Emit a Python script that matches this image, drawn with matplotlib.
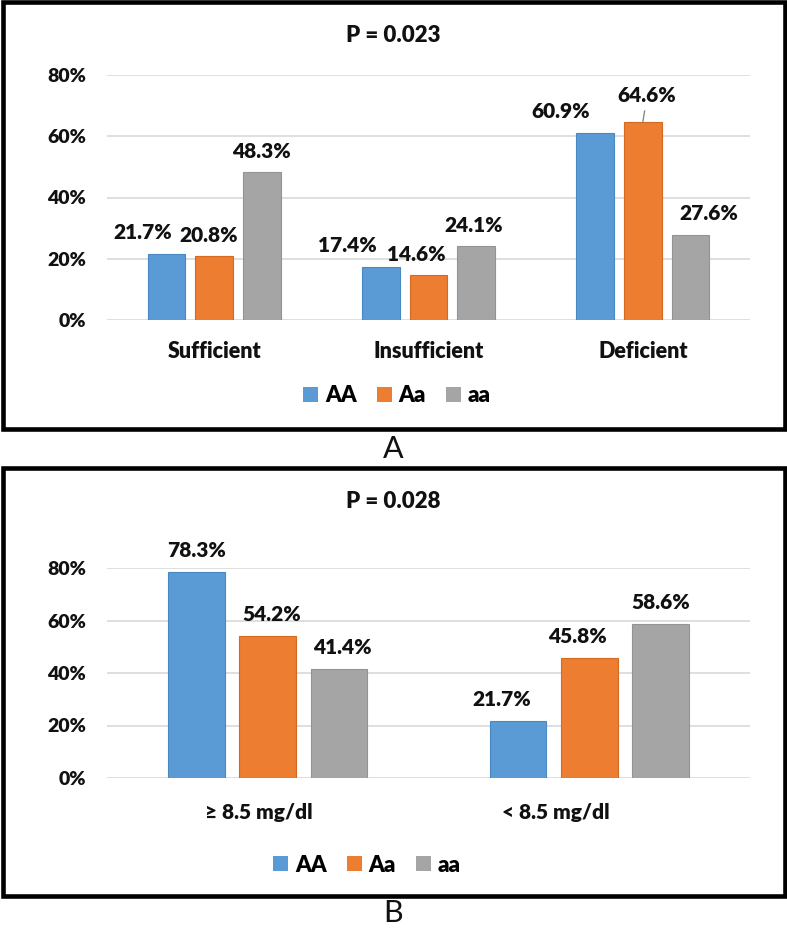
import matplotlib
matplotlib.use("Agg")
import matplotlib.pyplot as plt
from matplotlib.patches import Rectangle, Patch
import numpy as np

plt.rcParams['font.family'] = ['Lato', 'DejaVu Sans']

series = ['AA', 'Aa', 'aa']
colors = ['#5B9BD5', '#ED7D31', '#A5A5A5']
edges = ['#4A88C2', '#D46A22', '#939393']

cats_a = ['Sufficient', 'Insufficient', 'Deficient']
vals_a = {'AA': [21.7, 17.4, 60.9], 'Aa': [20.8, 14.6, 64.6], 'aa': [48.3, 24.1, 27.6]}
title_a = 'P = 0.023'

cats_b = ['\u2265 8.5 mg/dl', '< 8.5 mg/dl']
vals_b = {'AA': [78.3, 21.7], 'Aa': [54.2, 45.8], 'aa': [41.4, 58.6]}
title_b = 'P = 0.028'

yticks = [0, 20, 40, 60, 80]

W, H = 787, 932
fig = plt.figure(figsize=(W / 100, H / 100), dpi=100)
TXT = '#111111'
WT = 'heavy'

def fy(py):
    return 1 - py / H

def fx(px):
    return px / W

def panel(ax, cats, vals, label_offsets, cat_offsets, leaders=(), cat_weight=WT, cat_size=15.5):
    n = len(cats)
    x = np.arange(n)
    step = 0.222
    width = 0.176
    for i, s in enumerate(series):
        pos = x + (i - 1) * step
        ax.bar(pos, vals[s], width=width, color=colors[i], edgecolor=edges[i], linewidth=0.8, zorder=3)
        for j, v in enumerate(vals[s]):
            dx, dy = label_offsets[(i, j)]
            kw = dict(xy=(pos[j], v), xytext=(dx, dy), textcoords='offset points',
                      ha='center', va='center', fontsize=15, fontweight=WT, color=TXT,
                      annotation_clip=False)
            if (i, j) in leaders:
                kw['arrowprops'] = dict(arrowstyle='-', color='#7f7f7f', lw=0.9, shrinkA=2, shrinkB=0)
            ax.annotate(f'{v:.1f}%', **kw)
    ax.set_xlim(-0.5, n - 0.5)
    ax.set_ylim(0, 80)
    ax.set_yticks(yticks)
    ax.set_yticklabels([f'{t}%' for t in yticks], fontsize=14, fontweight=WT, color=TXT)
    ax.tick_params(axis='y', length=0, pad=15)
    ax.set_xticks([])
    for sp in ax.spines.values():
        sp.set_visible(False)
    ax.grid(axis='y', color='#D9D9D9', linewidth=1.2, zorder=0)
    ax.set_axisbelow(True)
    for j, c in enumerate(cats):
        dx, dy = cat_offsets[j]
        ax.annotate(c, xy=(j, 0), xytext=(dx, dy), textcoords='offset points', ha='center', va='center',
                    fontsize=cat_size, fontweight=cat_weight, color=TXT, annotation_clip=False)

# Panel A
axA = fig.add_axes([fx(107), fy(320), fx(750) - fx(107), fy(75) - fy(320)])
offs_a = {
    (0, 0): (-17, 15), (1, 0): (-4.3, 15), (2, 0): (0, 15),
    (0, 1): (-24, 15), (1, 1): (-8.6, 15), (2, 1): (-1.4, 15),
    (0, 2): (-25, 16), (1, 2): (3, 19), (2, 2): (13, 16),
}
panel(axA, cats_a, vals_a, offs_a, [(0, -23), (0, -23), (0, -23)], leaders=[(1, 2)])
fig.text(fx(393), fy(36), title_a, ha='center', va='center', fontsize=16, fontweight=WT, color=TXT)
handles = [Patch(facecolor=c, edgecolor='none') for c in colors]
legkw = dict(loc='center', ncol=3, frameon=False, prop={'size': 16, 'weight': WT},
             handlelength=0.68, handleheight=0.68, handletextpad=0.3, columnspacing=0.9)
fig.legend(handles, series, bbox_to_anchor=(fx(397), fy(396)), **legkw)
fig.text(fx(393), fy(449), 'A', ha='center', va='center', fontsize=22, fontweight='normal', color=TXT)

# Panel B
axB = fig.add_axes([fx(107), fy(778), fx(750) - fx(107), fy(568) - fy(778)])
offs_b = {
    (0, 0): (0, 15.5), (1, 0): (3, 15.5), (2, 0): (2, 15.5),
    (0, 1): (-11.5, 15.5), (1, 1): (-8.6, 15.5), (2, 1): (0, 15.5),
}
panel(axB, cats_b, vals_b, offs_b, [(-6.5, -24.5), (-24, -24.5)], cat_size=15)
fig.text(fx(393), fy(502), title_b, ha='center', va='center', fontsize=16, fontweight=WT, color=TXT)
fig.legend(handles, series, bbox_to_anchor=(fx(367), fy(865)), **legkw)
fig.text(fx(393), fy(913), 'B', ha='center', va='center', fontsize=22, fontweight='normal', color=TXT)

# Frames
lw = 3.3
fig.patches.append(Rectangle((fx(2.5), fy(429)), fx(782), fy(2.5) - fy(429), transform=fig.transFigure,
                             fill=False, edgecolor='black', linewidth=lw))
fig.patches.append(Rectangle((fx(2.5), fy(896)), fx(782), fy(468) - fy(896), transform=fig.transFigure,
                             fill=False, edgecolor='black', linewidth=lw))

fig.savefig('out.png', dpi=100, facecolor='white')
